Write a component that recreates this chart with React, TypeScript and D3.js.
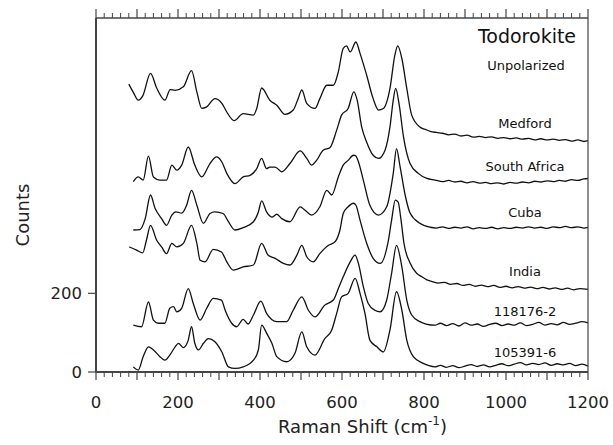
import React from 'react';
import * as d3 from 'd3';

type Pt = [number, number];

const medford: Pt[] = [[80,732],[91,711],[103,691],[114,702],[133,759],[148,722],[168,691],[181,718],[193,716],[213,725],[233,766],[246,712],[258,670],[270,674],[290,695],[307,683],[319,661],[337,639],[359,657],[384,653],[392,670],[404,722],[424,691],[441,678],[461,655],[481,666],[493,695],[502,717],[514,683],[534,670],[546,695],[563,729],[579,729],[591,763],[603,823],[611,829],[620,814],[634,839],[644,810],[660,755],[676,695],[689,666],[701,670],[717,721],[729,806],[736,829],[746,797],[758,721],[770,653],[790,623],[805,616],[815,612],[830,609],[845,607],[860,603],[875,605],[890,600],[905,602],[920,597],[935,599],[950,596],[965,598],[980,594],[995,596],[1010,593],[1025,595],[1040,592],[1055,594],[1070,590],[1085,593],[1100,590],[1115,592],[1130,589],[1145,591],[1160,587],[1175,590],[1190,586],[1200,588]];

const southAfrica: Pt[] = [[91,484],[103,496],[115,488],[128,549],[140,496],[156,488],[172,488],[185,526],[197,513],[209,526],[225,572],[241,526],[258,496],[278,530],[294,547],[307,534],[319,505],[339,479],[359,496],[376,500],[392,517],[404,543],[416,517],[424,521],[437,521],[453,509],[473,530],[498,562],[514,543],[526,526],[538,538],[554,564],[571,571],[587,615],[599,653],[615,670],[629,712],[637,691],[648,623],[660,585],[676,551],[689,543],[705,564],[717,623],[725,691],[731,721],[739,683],[750,598],[766,530],[786,505],[807,492],[827,488],[845,484],[860,487],[875,483],[890,485],[905,481],[920,484],[935,480],[950,482],[965,479],[980,481],[995,478],[1010,482],[1025,480],[1040,483],[1055,481],[1070,485],[1085,483],[1100,486],[1115,484],[1130,487],[1145,485],[1160,489],[1175,487],[1190,491],[1200,492]];

const cuba: Pt[] = [[91,361],[107,362],[120,390],[133,450],[144,416],[160,390],[172,373],[185,399],[195,407],[209,404],[221,424],[233,462],[246,424],[262,378],[278,403],[290,407],[310,403],[323,382],[339,361],[359,367],[384,382],[396,407],[404,435],[416,407],[429,394],[441,401],[453,390],[473,382],[498,420],[510,411],[526,399],[546,420],[563,462],[575,450],[591,496],[603,526],[615,538],[628,551],[633,550],[639,538],[652,488],[668,424],[689,399],[709,420],[725,505],[733,568],[741,526],[754,450],[766,404],[790,378],[815,368],[830,366],[845,369],[860,365],[875,368],[890,366],[905,369],[920,364],[935,367],[950,365],[965,368],[980,364],[995,367],[1010,365],[1025,368],[1040,366],[1055,369],[1070,366],[1085,368],[1100,365],[1115,369],[1130,367],[1145,370],[1160,367],[1175,369],[1190,366],[1200,368]];

const india: Pt[] = [[81,318],[99,310],[114,303],[123,335],[133,373],[148,335],[160,318],[172,301],[185,327],[197,318],[213,327],[233,373],[246,327],[254,284],[266,280],[286,312],[306,305],[319,280],[335,259],[359,267],[384,272],[404,327],[420,297],[437,289],[457,276],[473,272],[490,297],[502,322],[514,293],[530,280],[546,301],[567,322],[583,331],[595,361],[603,403],[615,420],[628,429],[634,424],[644,386],[660,328],[676,289],[693,276],[712,328],[721,386],[730,437],[737,432],[744,386],[751,328],[766,277],[782,251],[795,242],[807,234],[820,230],[835,226],[850,228],[865,223],[880,225],[895,220],[910,223],[925,218],[940,221],[955,217],[970,220],[985,215],[1000,218],[1015,214],[1030,217],[1045,213],[1060,216],[1075,212],[1090,215],[1105,211],[1120,214],[1135,210],[1150,213],[1165,209],[1180,212],[1200,210]];

const s118176: Pt[] = [[91,119],[111,115],[128,178],[140,132],[152,124],[168,124],[180,162],[189,166],[197,153],[209,162],[225,212],[237,175],[254,132],[270,162],[286,187],[306,183],[315,157],[331,124],[343,115],[359,134],[371,122],[384,145],[402,180],[416,149],[441,128],[465,128],[481,157],[502,191],[518,157],[534,140],[558,170],[579,183],[591,212],[603,242],[620,280],[632,297],[640,276],[652,217],[664,174],[680,157],[693,153],[709,183],[721,251],[733,322],[746,267],[758,183],[770,145],[790,128],[805,122],[827,119],[840,124],[855,118],[870,123],[885,117],[900,125],[915,119],[930,122],[945,116],[960,121],[975,124],[990,118],[1005,122],[1020,119],[1035,125],[1050,118],[1065,121],[1080,126],[1095,119],[1110,123],[1125,120],[1140,126],[1155,121],[1170,124],[1185,128],[1200,125]];

const s105391: Pt[] = [[91,13],[103,5],[115,39],[128,64],[140,56],[156,39],[168,30],[180,43],[193,64],[201,73],[213,62],[225,81],[233,115],[241,73],[250,56],[262,73],[274,85],[290,77],[307,51],[323,13],[339,9],[359,13],[384,30],[396,56],[404,119],[416,99],[429,73],[441,39],[465,26],[485,47],[502,102],[514,64],[534,43],[558,85],[575,107],[587,149],[599,191],[615,200],[632,238],[644,200],[656,149],[668,81],[685,64],[701,51],[717,107],[733,204],[746,157],[758,81],[774,39],[798,22],[812,16],[827,13],[840,17],[855,12],[870,16],[885,11],[900,15],[915,19],[930,14],[945,18],[960,13],[975,17],[990,21],[1005,16],[1020,20],[1035,24],[1050,18],[1065,22],[1080,19],[1095,23],[1110,17],[1125,21],[1140,18],[1155,22],[1170,16],[1185,20],[1200,15]];

const spectra: Pt[][] = [medford, southAfrica, cuba, india, s118176, s105391];
const sampleLabels = ['Medford', 'South Africa', 'Cuba', 'India', '118176-2', '105391-6'];
const xTickLabels = [0, 200, 400, 600, 800, 1000, 1200];
const yTickLabels = [0, 200];
const title = 'Todorokite';
const subtitle = 'Unpolarized';

export default function App() {
  const W = 613, H = 445;
  const x = d3.scaleLinear().domain([0, 1200]).range([96, 588]);
  const y = d3.scaleLinear().domain([0, 900]).range([372, 18]);
  const line = d3.line<Pt>().x(d => x(d[0])).y(d => y(d[1])).curve(d3.curveMonotoneX);
  const majors = d3.range(0, 1201, 100);
  const minors = d3.range(0, 1201, 20).filter(v => v % 100 !== 0);
  const font = 'DejaVu Sans, sans-serif';
  const frame = '#444';
  const labelBaselines = [128, 171, 217, 276, 316, 357];

  return (
    <svg width={W} height={H} style={{ position: 'absolute', left: 0, top: 0, background: '#fff' }} fontFamily={font}>
      <rect width={W} height={H} fill="#fff" />
      {spectra.map((s, i) => (
        <path key={i} d={line(s) || ''} fill="none" stroke="#111" strokeWidth={1.3} strokeLinejoin="round" />
      ))}
      {/* frame */}
      <line x1={x(0)} x2={x(1200)} y1={y(900)} y2={y(900)} stroke={frame} strokeWidth={1.5} />
      <line x1={x(1200)} x2={x(1200)} y1={y(900)} y2={y(0)} stroke={frame} strokeWidth={1.2} />
      <line x1={x(0)} x2={x(0)} y1={y(900)} y2={y(0)} stroke={frame} strokeWidth={2} />
      <line x1={x(0)} x2={x(1200)} y1={y(0)} y2={y(0)} stroke={frame} strokeWidth={2} />
      {/* top ticks */}
      {majors.map(v => <line key={'tm' + v} x1={x(v)} x2={x(v)} y1={y(900)} y2={y(900) - 9} stroke={frame} strokeWidth={1.2} />)}
      {minors.map(v => <line key={'tn' + v} x1={x(v)} x2={x(v)} y1={y(900)} y2={y(900) - 5} stroke={frame} strokeWidth={1} />)}
      {/* bottom ticks */}
      {majors.map(v => <line key={'bm' + v} x1={x(v)} x2={x(v)} y1={y(0)} y2={y(0) + 8} stroke={frame} strokeWidth={1.2} />)}
      {minors.map(v => <line key={'bn' + v} x1={x(v)} x2={x(v)} y1={y(0)} y2={y(0) + 5} stroke={frame} strokeWidth={1} />)}
      {xTickLabels.map(v => (
        <text key={'xl' + v} x={x(v)} y={408} textAnchor="middle" fontSize={16.5} fill="#222">{v}</text>
      ))}
      {/* left ticks */}
      {yTickLabels.map(v => (
        <g key={'yl' + v}>
          <line x1={x(0) - 8} x2={x(0)} y1={y(v)} y2={y(v)} stroke={frame} strokeWidth={1.2} />
          <text x={x(0) - 14} y={y(v) + 6} textAnchor="end" fontSize={16.5} fill="#222">{v}</text>
        </g>
      ))}
      {/* axis titles */}
      <text x={278} y={433} fontSize={18} fill="#222">
        Raman Shift (cm<tspan dy={-8} fontSize={12}>-1</tspan><tspan dy={8}>)</tspan>
      </text>
      <text transform="translate(29,215) rotate(-90)" textAnchor="middle" fontSize={18} fill="#222">Counts</text>
      {/* labels */}
      <text x={527} y={43} textAnchor="middle" fontSize={19} fill="#111">{title}</text>
      <text x={526} y={70} textAnchor="middle" fontSize={13} fill="#111">{subtitle}</text>
      {sampleLabels.map((l, i) => (
        <text key={l} x={525} y={labelBaselines[i]} textAnchor="middle" fontSize={13} fill="#111">{l}</text>
      ))}
    </svg>
  );
}
